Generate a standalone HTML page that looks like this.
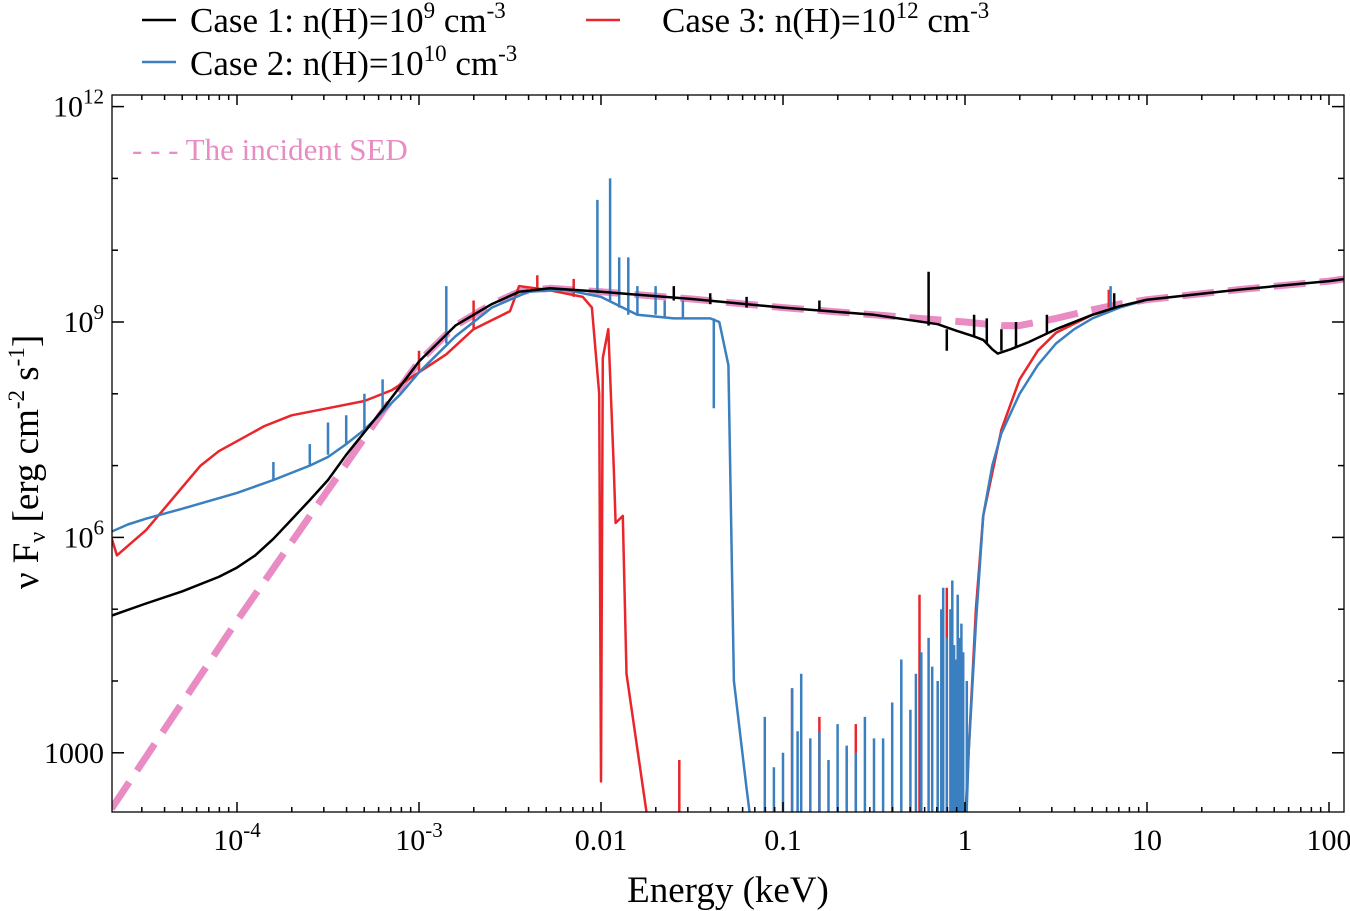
<!DOCTYPE html>
<html><head><meta charset="utf-8"><style>
body{margin:0;background:#fff;}
svg{display:block;font-family:"Liberation Serif","DejaVu Serif",serif;}
</style></head><body>
<svg id="c" width="1350" height="911">
<defs><clipPath id="clip"><rect x="112" y="95" width="1232" height="717"/></clipPath></defs>
<g id="plot" clip-path="url(#clip)"></g>
<rect x="112" y="95" width="1232" height="717" fill="none" stroke="#000" stroke-width="1.3"/>
<g id="axes"></g>
<g font-size="35">
<line x1="142" y1="20" x2="176" y2="20" stroke="#000" stroke-width="2.5"/>
<text x="190" y="32">Case 1: n(H)=10<tspan dy="-14" font-size="23">9</tspan><tspan dy="14"> cm</tspan><tspan dy="-14" font-size="23">-3</tspan></text>
<line x1="142" y1="62" x2="176" y2="62" stroke="#3a7fbf" stroke-width="2.5"/>
<text x="190" y="75">Case 2: n(H)=10<tspan dy="-14" font-size="23">10</tspan><tspan dy="14"> cm</tspan><tspan dy="-14" font-size="23">-3</tspan></text>
<line x1="586" y1="20" x2="620" y2="20" stroke="#e8262b" stroke-width="2.5"/>
<text x="662" y="32">Case 3: n(H)=10<tspan dy="-14" font-size="23">12</tspan><tspan dy="14"> cm</tspan><tspan dy="-14" font-size="23">-3</tspan></text>
</g>
<text x="132" y="160" font-size="31" fill="#e98cc4">- - - The incident SED</text>
<text x="728" y="902" font-size="37" text-anchor="middle">Energy (keV)</text>
<text transform="translate(38,462) rotate(-90)" font-size="37" text-anchor="middle">ν F<tspan font-size="24" dy="7">ν</tspan><tspan dy="-7"> [erg cm</tspan><tspan dy="-14" font-size="23">-2</tspan><tspan dy="14"> s</tspan><tspan dy="-14" font-size="23">-1</tspan><tspan dy="14">]</tspan></text>
</svg>
<script>
// data in log10 units: [log10(E/keV), log10(nuFnu)]
const sedPts=[[-4.69,2.22],[-4,4.84],[-3.5,6.66],[-3.2,7.75],[-3,8.45],[-2.8,8.95],[-2.6,9.25],[-2.45,9.42],[-2.28,9.47],[-2,9.42],[-1.5,9.32],[-1,9.2],[-0.5,9.1],[0,9.0],[0.2,8.95],[0.3,8.95],[0.5,9.05],[0.7,9.17],[0.85,9.25],[1,9.31],[1.5,9.45],[2,9.57],[2.09,9.6]];
const case1Pts=[[-4.69,4.91],[-4.5,5.08],[-4.3,5.25],[-4.1,5.45],[-4,5.58],[-3.9,5.75],[-3.8,5.98],[-3.7,6.25],[-3.6,6.52],[-3.5,6.8],[-3.4,7.15],[-3.2,7.78],[-3,8.45],[-2.8,8.95],[-2.6,9.25],[-2.45,9.42],[-2.28,9.47],[-2,9.42],[-1.5,9.32],[-1,9.2],[-0.5,9.1],[-0.15,8.97],[-0.05,8.88],[0.05,8.8],[0.1,8.75],[0.15,8.62],[0.18,8.56],[0.25,8.62],[0.35,8.72],[0.5,8.9],[0.7,9.1],[0.85,9.22],[1,9.31],[1.5,9.45],[2,9.57],[2.09,9.6]];
const case2Pts=[[-4.69,6.08],[-4.6,6.18],[-4.5,6.26],[-4.3,6.4],[-4,6.62],[-3.8,6.8],[-3.6,7.0],[-3.5,7.12],[-3.4,7.3],[-3.3,7.5],[-3.2,7.75],[-3.1,8.0],[-3,8.3],[-2.8,8.8],[-2.6,9.2],[-2.4,9.42],[-2.2,9.45],[-2,9.35],[-1.8,9.1],[-1.6,9.05],[-1.4,9.05],[-1.35,9.0],[-1.3,8.4],[-1.27,4.0],[-1.2,2.5],[-1.15,1.5],[0,1.5],[0.02,3.0],[0.06,4.8],[0.1,6.3],[0.15,7.0],[0.2,7.45],[0.3,8.0],[0.4,8.4],[0.5,8.7],[0.6,8.9],[0.7,9.05],[0.85,9.2],[1,9.31]];
const case3Pts=[[-4.69,6.0],[-4.66,5.75],[-4.5,6.1],[-4.4,6.4],[-4.3,6.7],[-4.2,7.0],[-4.1,7.2],[-4,7.34],[-3.85,7.55],[-3.7,7.7],[-3.5,7.8],[-3.3,7.9],[-3.15,8.05],[-3,8.3],[-2.85,8.55],[-2.7,8.9],[-2.5,9.15],[-2.45,9.5],[-2.3,9.45],[-2.1,9.35],[-2.05,9.2],[-2.01,8.0],[-2.0,2.6],[-1.99,8.5],[-1.96,8.9],[-1.93,7.0],[-1.92,6.2],[-1.88,6.3],[-1.86,4.1],[-1.74,2.0],[0,2.0],[0.02,3.0],[0.06,5.0],[0.1,6.3],[0.2,7.5],[0.3,8.2],[0.4,8.6],[0.5,8.85],[0.7,9.1],[1,9.31]];
// spikes: [logE, baseLogF, peakLogF]
const case1Spikes=[[-1.6,9.3,9.5],[-1.2,9.2,9.35],[-0.8,9.15,9.3],[-0.2,8.95,9.7],[-0.1,8.9,8.6],[0.05,8.8,9.1],[0.28,8.65,9.0],[0.45,8.85,9.1],[0.82,9.2,9.4],[-1.4,9.25,9.4],[0.12,8.7,9.05],[0.2,8.6,8.9]];
const case2Spikes=[[-2.02,9.4,10.7],[-1.95,9.3,11.0],[-1.9,9.2,9.9],[-1.85,9.1,9.9],[-1.8,9.1,9.5],[-1.7,9.1,9.5],[-1.65,9.05,9.3],[-1.55,9.05,9.3],[-1.38,9.05,7.8],[-3.8,6.8,7.05],[-3.6,7.0,7.3],[-3.5,7.15,7.6],[-3.4,7.3,7.7],[-3.3,7.5,8.0],[-3.2,7.75,8.2],[-2.85,8.7,9.5],[-1.1,1.5,3.5],[-1.05,1.5,2.8],[-1.0,1.5,3.0],[-0.95,1.5,3.9],[-0.92,1.5,3.3],[-0.9,1.5,4.1],[-0.85,1.5,3.2],[-0.8,1.5,3.3],[-0.75,1.5,2.9],[-0.7,1.5,3.4],[-0.65,1.5,3.1],[-0.6,1.5,3.0],[-0.55,1.5,3.5],[-0.5,1.5,3.2],[-0.45,1.5,3.2],[-0.4,1.5,3.7],[-0.35,1.5,4.3],[-0.3,1.5,3.6],[-0.27,1.5,4.1],[-0.24,1.5,4.4],[-0.2,1.5,4.6],[-0.18,1.5,4.2],[-0.15,1.5,4.0],[-0.13,1.5,5.0],[-0.12,1.5,5.3],[-0.1,1.5,4.6],[-0.08,1.5,5.0],[-0.07,1.5,5.4],[-0.06,1.5,4.5],[-0.05,1.5,4.3],[-0.04,1.5,5.2],[-0.03,1.5,4.6],[-0.02,1.5,4.8],[-0.01,1.5,4.4],[0.01,2.5,4.0],[0.8,9.2,9.5]];
const case3Spikes=[[-2.7,8.9,9.3],[-2.15,9.35,9.6],[-0.95,1.5,3.9],[-0.8,1.5,3.5],[-0.6,1.5,3.4],[-0.25,1.5,5.2],[-0.1,1.5,5.3],[-0.04,1.5,4.2],[-1.57,1.5,2.9],[0.79,9.2,9.45],[-3.0,8.3,8.6],[-2.35,9.45,9.65]];
const xTickVals=[-4,-3,-2,-1,0,1,2];
const xTickLabels=["10-4","10-3","0.01","0.1","1","10","100"];
const yTickVals=[12,9,6,3];
const yTickLabels=["1012","109","106","1000"];

const X=v=>237+(v+4)*182;
const Y=v=>322-(v-9)*71.8;
const NS="http://www.w3.org/2000/svg";
const plot=document.getElementById('plot'), axes=document.getElementById('axes');
function mk(tag,attrs,parent){const e=document.createElementNS(NS,tag);for(const k in attrs)e.setAttribute(k,attrs[k]);parent.appendChild(e);return e;}
function line(pts,color,w,name,dash){
  const d=pts.map((p,i)=>(i?'L':'M')+X(p[0]).toFixed(1)+','+Y(p[1]).toFixed(1)).join('');
  const e=mk('path',{d:d,fill:'none',stroke:color,'stroke-width':w,'stroke-linejoin':'round'},plot);
  if(dash)e.setAttribute('stroke-dasharray',dash);
  
  
}
function spikes(arr,color,name){
  const d=arr.map(s=>'M'+X(s[0]).toFixed(1)+','+Y(s[1]).toFixed(1)+'L'+X(s[0]).toFixed(1)+','+Y(s[2]).toFixed(1)).join('');
  const e=mk('path',{d:d,stroke:color,'stroke-width':2.5,fill:'none'},plot);
  
  
}
line(sedPts,'#e98cc4',7,'incident-sed-line','32,14');
line(case3Pts,'#e8262b',2.5,'case3-line');
spikes(case3Spikes,'#e8262b','case3-spikes');
line(case2Pts,'#3a7fbf',2.5,'case2-line');
spikes(case2Spikes,'#3a7fbf','case2-spikes');
line(case1Pts,'#000',2.5,'case1-line');
spikes(case1Spikes,'#000','case1-spikes');

for(let dec=-5;dec<=2;dec++){for(let m=1;m<10;m++){const v=dec+Math.log10(m);const x=X(v);if(x<112||x>1344)continue;const L=m==1?10:5;
 mk('line',{x1:x,y1:812,x2:x,y2:812-L,stroke:'#000','stroke-width':1.5},axes);
 mk('line',{x1:x,y1:95,x2:x,y2:95+L,stroke:'#000','stroke-width':1.5},axes);}}
xTickVals.forEach((v,i)=>{const lab=xTickLabels[i];const t=mk('text',{x:X(v),y:850,'font-size':30,'text-anchor':'middle'},axes);
 if(lab.startsWith('10-')){t.innerHTML='10<tspan dy="-13" font-size="21">'+lab.slice(2)+'</tspan>';}else t.textContent=lab;
 
 });
for(let d=3;d<=12;d++){const y=Y(d);const L=d%3==0?12:6;
 mk('line',{x1:112,y1:y,x2:112+L,y2:y,stroke:'#000','stroke-width':1.5},axes);
 mk('line',{x1:1344,y1:y,x2:1344-L,y2:y,stroke:'#000','stroke-width':1.5},axes);}
yTickVals.forEach((v,i)=>{const lab=yTickLabels[i];const t=mk('text',{x:104,y:Y(v)+10,'font-size':30,'text-anchor':'end'},axes);
 if(lab!=='1000'){t.innerHTML='10<tspan dy="-13" font-size="21">'+lab.slice(2)+'</tspan>';}else t.textContent=lab;
 
 });
</script>
</body></html>
